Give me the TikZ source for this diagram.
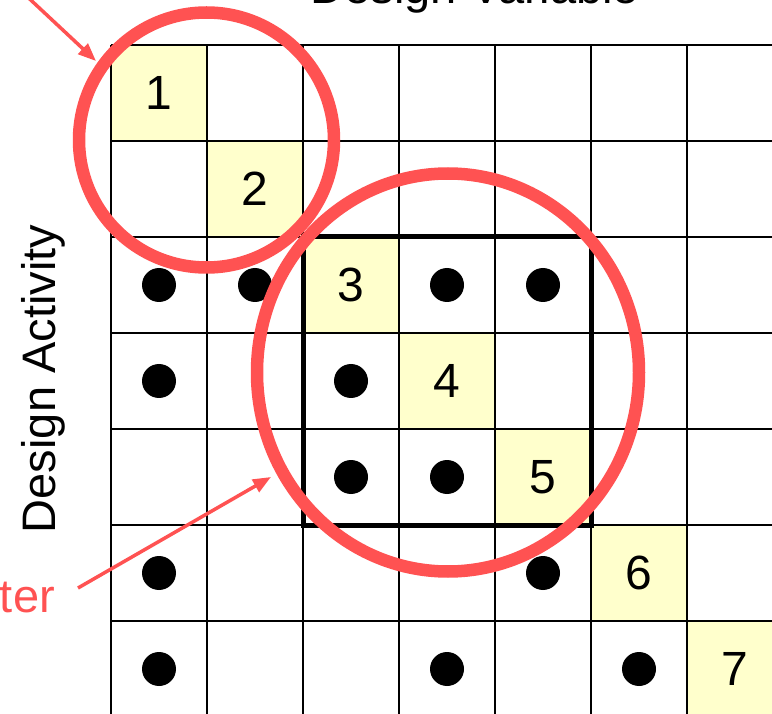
\documentclass[tikz,border=0pt]{standalone}
\usepackage{fontspec}
\setmainfont{Liberation Sans}
\usetikzlibrary{arrows.meta}
\definecolor{clred}{RGB}{255,82,82}
\definecolor{cellyellow}{RGB}{255,255,204}
\begin{document}
\begin{tikzpicture}[x=1pt,y=-1pt,
  gridline/.style={line width=2.7pt, black},
  clusterbox/.style={line width=5pt, black},
  dotmark/.style={fill=black},
  numlabel/.style={font=\fontsize{48}{50}\selectfont, inner sep=0pt},
  axislabel/.style={font=\fontsize{47}{50}\selectfont, inner sep=0pt, black},
  redlabel/.style={font=\fontsize{47}{50}\selectfont, inner sep=0pt, text=clred},
  clusterring/.style={draw=clred, line width=12.5pt},
  redarrow/.style={draw=clred, line width=3.5pt, -{Triangle[length=18pt,width=14pt]}}]
\useasboundingbox (0,0) rectangle (772,714);
\clip (0,0) rectangle (772,714);
% yellow diagonal cells
\foreach \i in {1,...,7}
  \fill[cellyellow] (15+96*\i,-51+96*\i) rectangle ++(96,96);
% grid
\foreach \k in {0,...,7} {
  \draw[gridline] (111+96*\k,45) -- (111+96*\k,717);
  \draw[gridline] (111,45+96*\k) -- (783,45+96*\k);
}
% cluster box
\draw[clusterbox] (303,237) rectangle (591,525);
% dots
\foreach \i/\j in {3/1,3/2,3/4,3/5,4/1,4/3,5/3,5/4,6/1,6/5,7/1,7/4,7/6}
  \fill[dotmark] (63+96*\j,-3+96*\i) circle[radius=17pt];
% numbers
\foreach \i in {1,...,7}
  \node[numlabel] (n\i) at (63+96*\i,-3+96*\i) {\i};
% labels
\node[axislabel, anchor=base] (dv) at (475,4) {Design Variable};
\node[axislabel, anchor=base, rotate=90] (da) at (55,379) {Design Activity};
\node[redlabel, anchor=base east] (cl) at (55,612) {ter};
% rings
\draw[clusterring] (206.5,140) circle[radius=127.5pt];
\draw[clusterring] (448,372.5) ellipse[x radius=191pt, y radius=199pt];
% arrows
\coordinate (a1s) at (-12,-40);
\coordinate (a1e) at (96,61);
\coordinate (a2s) at (78,588);
\coordinate (a2e) at (271,477);
\draw[redarrow] (a1s) -- (a1e);
\draw[redarrow] (a2s) -- (a2e);
\end{tikzpicture}
\end{document}
